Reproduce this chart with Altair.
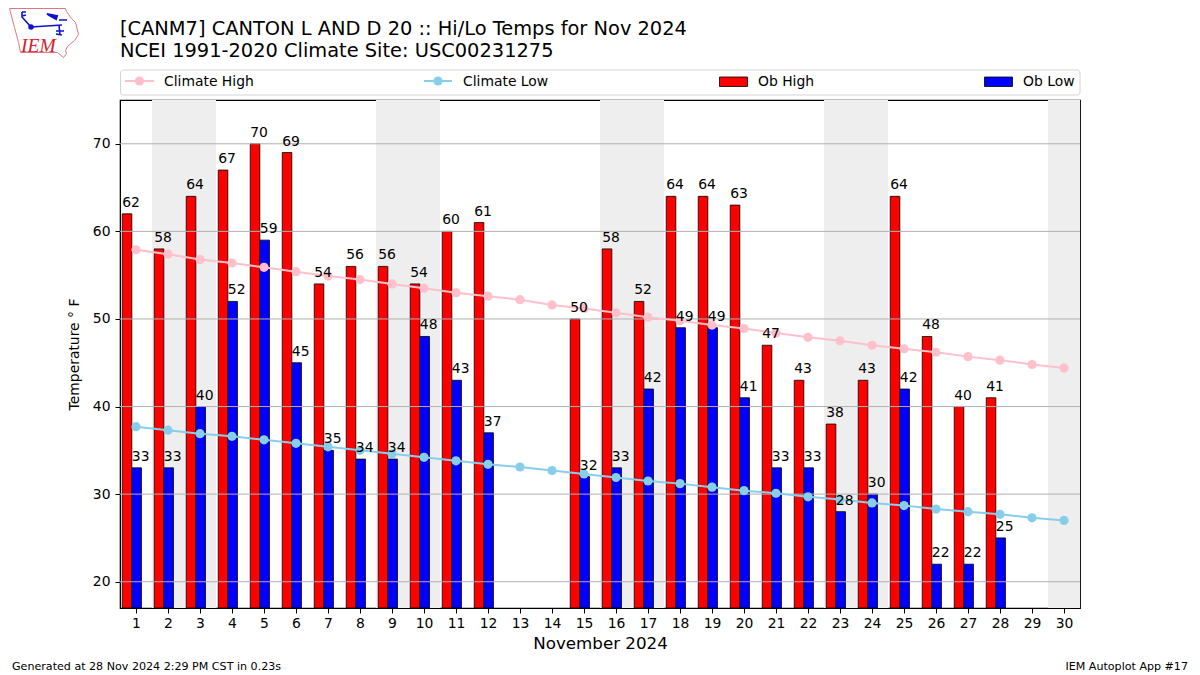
import altair as alt
import pandas as pd

days = list(range(1, 31))
ob_high = [62,58,64,67,70,69,54,56,56,54,60,61,None,None,50,58,52,64,64,63,47,43,38,43,64,48,40,41,None,None]
ob_low = [33,33,40,52,59,45,35,34,34,48,43,37,None,None,32,33,42,49,49,41,33,33,28,30,42,22,22,25,None,None]
climate_high = [57.9,57.4,56.8,56.4,55.9,55.4,54.9,54.5,54.0,53.5,53.0,52.6,52.2,51.6,51.2,50.7,50.2,49.8,49.3,48.9,48.4,47.9,47.5,47.0,46.6,46.2,45.7,45.3,44.8,44.4]
climate_low = [37.7,37.3,36.9,36.6,36.2,35.8,35.4,35.0,34.6,34.2,33.8,33.4,33.1,32.7,32.3,31.9,31.5,31.2,30.8,30.4,30.1,29.7,29.4,29.0,28.7,28.3,28.0,27.7,27.3,27.0]
weekend_start = [1.5, 8.5, 15.5, 22.5, 29.5]
weekend_end = [3.5, 10.5, 17.5, 24.5, 30.5]
y_ticks = [20, 30, 40, 50, 60, 70]

title_1 = "[CANM7] CANTON L AND D 20 :: Hi/Lo Temps for Nov 2024"
title_2 = "NCEI 1991-2020 Climate Site: USC00231275"
footer_l = "Generated at 28 Nov 2024 2:29 PM CST in 0.23s"
footer_r = "IEM Autoplot App #17"

FONT = "DejaVu Sans"
df = pd.DataFrame(dict(day=days, high=ob_high, low=ob_low, chigh=climate_high, clow=climate_low))
bands = pd.DataFrame(dict(a=weekend_start, b=weekend_end))
grid = pd.DataFrame(dict(v=y_ticks))
one = pd.DataFrame(dict(a=[0]))

xscale = alt.Scale(domain=[0.5, 30.5], nice=False, zero=False)
yscale = alt.Scale(domain=[17, 75], nice=False, zero=False)
xaxis = alt.Axis(values=days, format="d", title="November 2024", grid=False, labelFlush=False,
                 titleFontSize=16.7, titleFontWeight="normal", titleFont=FONT, titleColor="black",
                 labelFontSize=13.9, labelFont=FONT, labelColor="black", tickColor="black", domainColor="black",
                 tickSize=5, labelPadding=3, titlePadding=6, labelOverlap=False, labelAngle=0)
yaxis = alt.Axis(values=y_ticks, format="d", title="Temperature \u00b0 F", grid=False,
                 titleFontSize=13.9, titleFontWeight="normal", titleFont=FONT, titleColor="black",
                 labelFontSize=13.9, labelFont=FONT, labelColor="black", tickColor="black", domainColor="black",
                 tickSize=5, labelPadding=5, titlePadding=11)

def X(f):
    return alt.X(f, scale=xscale, axis=xaxis)

def Y(f):
    return alt.Y(f, scale=yscale, axis=yaxis)

base = alt.Chart(df)
band_layer = alt.Chart(bands).mark_rect(color="#eeeeee", clip=True).encode(
    x=X("a:Q"), x2="b:Q", y=alt.value(0), y2=alt.value(508))

def bars(field, left, right, color):
    return base.transform_filter(f"datum.{field} != null").transform_calculate(
        l=f"datum.day+({left})", r=f"datum.day+({right})", b="17"
    ).mark_rect(color=color, stroke="black", strokeWidth=0.8, clip=True).encode(
        x=X("l:Q"), x2="r:Q", y=Y(f"{field}:Q"), y2="b:Q")

grid_layer = alt.Chart(grid).mark_rule(color="#b0b0b0", strokeWidth=1).encode(
    y=Y("v:Q"), x=alt.value(0), x2=alt.value(960))

def climate(field, color):
    line = base.mark_line(color=color, strokeWidth=2).encode(x=X("day:Q"), y=Y(f"{field}:Q"))
    pts = base.mark_point(color=color, filled=True, opacity=1, size=85).encode(x=X("day:Q"), y=Y(f"{field}:Q"))
    return line + pts

def labels(field, left):
    return base.transform_filter(f"datum.{field} != null").transform_calculate(
        l=f"datum.day+({left})"
    ).mark_text(align="left", baseline="alphabetic", dy=-7, fontSize=13.9, font=FONT, color="black").encode(
        x=X("l:Q"), y=Y(f"{field}:Q"), text=alt.Text(f"{field}:Q", format="d"))

def txt(s, x, y, size=13.9, align="left", font=FONT, color="black", style="normal"):
    return alt.Chart(one).mark_text(text=s, align=align, baseline="alphabetic", fontSize=size, font=font,
                                    color=color, fontStyle=style).encode(x=alt.value(x), y=alt.value(y))

# legend (page coords minus plot origin 120,100)
legend_box = alt.Chart(one).mark_rect(fill="white", stroke="#d4d4d4", strokeWidth=1, cornerRadius=3).encode(
    x=alt.value(0.5), x2=alt.value(960), y=alt.value(-30), y2=alt.value(-5))

def legend_line(x0, x1, color):
    r = alt.Chart(one).mark_rule(color=color, strokeWidth=2).encode(
        x=alt.value(x0), x2=alt.value(x1), y=alt.value(-19))
    p = alt.Chart(one).mark_point(color=color, filled=True, opacity=1, size=85).encode(
        x=alt.value((x0 + x1) / 2), y=alt.value(-19))
    return r + p

def legend_rect(x0, x1, color):
    return alt.Chart(one).mark_rect(color=color, stroke="black", strokeWidth=0.8).encode(
        x=alt.value(x0), x2=alt.value(x1), y=alt.value(-23), y2=alt.value(-13.5))

legend = (legend_box
          + legend_line(5, 34, "pink") + txt("Climate High", 44, -14)
          + legend_line(304, 332, "skyblue") + txt("Climate Low", 343, -14)
          + legend_rect(599.5, 627.5, "red") + txt("Ob High", 638, -14)
          + legend_rect(864.5, 892.5, "blue") + txt("Ob Low", 903, -14))

# logo
outline = "M0,0 L56,0 L57,3 L62,10 L66,14 L69,26 L65,32 L58,38 L56,42 L57,45 L54,49 L48,44 L11,44 L9,34 L5,19 Z"
glyph = ("M22,20 L53,18 M22,20 L13,10 L13,5 M13,5 L17,5 M13,9 L17,8 M40,8 L48,12 M50,13 L58,13 "
         "M50,18 L51,28 M47,24 L55,24 M47,27 L53,28")
logo_outline = alt.Chart(one).mark_point(shape=outline, size=4, stroke="#e0777f", strokeWidth=1, fill=None, opacity=1).encode(
    x=alt.value(9.5 - 120), y=alt.value(8.5 - 100))
logo_glyph = alt.Chart(one).mark_point(shape=glyph, size=4, stroke="#1010d0", strokeWidth=1.6, fill=None, opacity=1).encode(
    x=alt.value(9 - 120), y=alt.value(7 - 100))
logo_dot = alt.Chart(one).mark_point(color="#1010d0", filled=True, opacity=1, size=30).encode(
    x=alt.value(31 - 120), y=alt.value(27 - 100))
logo_wing = alt.Chart(one).mark_point(shape="M0,0 L10,2 L9,5 Z", size=4, fill="#1010d0", stroke="#1010d0", filled=True, opacity=1).encode(
    x=alt.value(47 - 120), y=alt.value(14 - 100))
logo_text = txt("IEM", 21 - 120, 52 - 100, size=19.5, font="Liberation Serif", color="#d6202a", style="italic")

chart = alt.layer(
    band_layer,
    bars("high", -0.43, -0.13, "red"),
    bars("low", -0.13, 0.17, "blue"),
    grid_layer,
    climate("chigh", "pink"),
    climate("clow", "skyblue"),
    labels("high", -0.43),
    labels("low", -0.13),
    txt(title_1, 0, -65, size=19.4),
    txt(title_2, 0, -43, size=19.4),
    legend,
    txt(footer_l, 12 - 120, 670 - 100, size=11.1),
    txt(footer_r, 1188 - 120, 670 - 100, size=11.1, align="right"),
    logo_outline, logo_glyph, logo_dot, logo_wing, logo_text,
).properties(
    width=960, height=508,
    autosize=alt.AutoSizeParams(type="none"),
    padding={"left": 112, "top": 92, "right": 110, "bottom": 66},
).configure_view(stroke="black", strokeWidth=1.2)

chart.save("out.html", embed_options={"renderer": "svg", "actions": False})
